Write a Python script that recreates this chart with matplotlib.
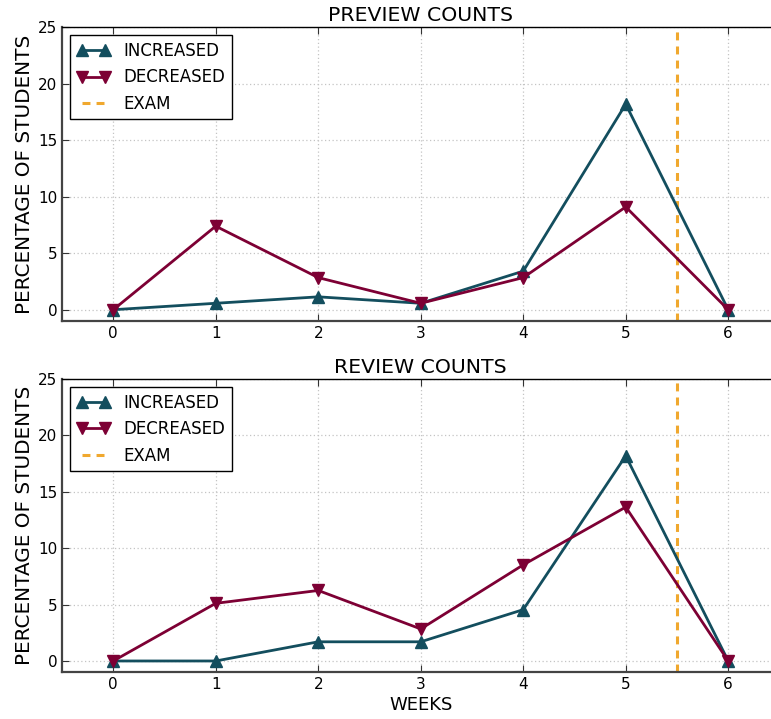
import matplotlib
matplotlib.use("Agg")
import matplotlib.pyplot as plt

weeks = [0, 1, 2, 3, 4, 5, 6]
exam_week = 5.5

preview_increased = [0.0, 0.57, 1.14, 0.57, 3.41, 18.18, 0.0]
preview_decreased = [0.0, 7.39, 2.84, 0.57, 2.84, 9.09, 0.0]
review_increased = [0.0, 0.0, 1.70, 1.70, 4.55, 18.18, 0.0]
review_decreased = [0.0, 5.11, 6.25, 2.84, 8.52, 13.64, 0.0]

titles = ["PREVIEW COUNTS", "REVIEW COUNTS"]
ylabel = "PERCENTAGE OF STUDENTS"
xlabel = "WEEKS"
yticks = [0, 5, 10, 15, 20, 25]

TEAL = "#134e5e"
MAROON = "#7d0034"
ORANGE = "#f0a82e"

plt.rcParams["font.family"] = "DejaVu Sans"

fig = plt.figure(figsize=(7.71, 7.19), dpi=100)
positions = [[0.0804, 0.5535, 0.9306, 0.4089],
             [0.0804, 0.0650, 0.9306, 0.4080]]
panels = [(preview_increased, preview_decreased),
          (review_increased, review_decreased)]

for pos, title, (inc, dec) in zip(positions, titles, panels):
    ax = fig.add_axes(pos)
    ax.plot(weeks, inc, color=TEAL, lw=2, marker="^", ms=9,
            mec=TEAL, label="INCREASED", zorder=3)
    ax.plot(weeks, dec, color=MAROON, lw=2, marker="v", ms=9,
            mec=MAROON, label="DECREASED", zorder=3)
    ax.axvline(exam_week, color=ORANGE, lw=2.2, ls=(0, (2.6, 2.0)),
               label="EXAM", zorder=2)
    ax.set_xlim(-0.5, 6.5)
    ax.set_ylim(-1, 25)
    ax.set_xticks(weeks)
    ax.set_yticks(yticks)
    ax.grid(True, color="#c4c4c4", ls=(0, (1, 2)), lw=0.9)
    ax.set_axisbelow(True)
    ax.tick_params(direction="in", top=True, right=True, length=5,
                   labelsize=11, color="#333333")
    for side in ("left", "bottom"):
        ax.spines[side].set_color("#444444")
        ax.spines[side].set_linewidth(1.6)
    ax.spines["top"].set_linewidth(1.0)
    ax.set_title(title, fontsize=14.7, pad=4)
    ax.set_ylabel(ylabel, fontsize=14.4, labelpad=3)
    leg = ax.legend(loc="upper left", numpoints=2, fontsize=12,
                    fancybox=False, edgecolor="black", framealpha=1,
                    handlelength=2.0, borderaxespad=0.5)
    leg.get_frame().set_linewidth(1.0)
    if title == titles[-1]:
        ax.set_xlabel(xlabel, fontsize=13, labelpad=3)

fig.savefig("out.png", dpi=100)
